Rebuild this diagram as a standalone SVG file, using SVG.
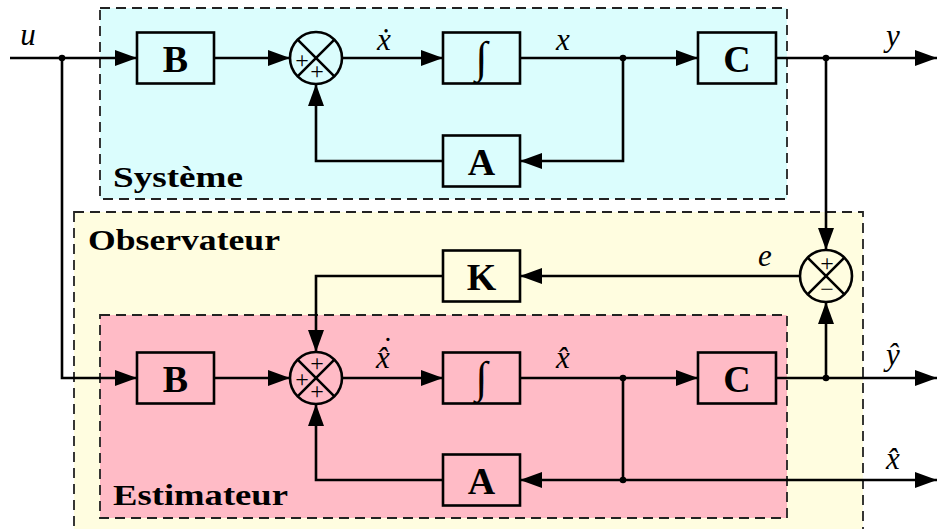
<svg xmlns="http://www.w3.org/2000/svg" width="937" height="529" viewBox="0 0 937 529">
<style>
.zone{stroke:#222;stroke-width:1.8;stroke-dasharray:10 6}
.blk{fill:none;stroke:#000;stroke-width:2.6}
.ln{fill:none;stroke:#000;stroke-width:2.6}
.arr{marker-end:url(#ah)}
.sum{fill:none;stroke:#000;stroke-width:2.6}
.bl{font-family:"Liberation Serif",serif;font-weight:bold;font-size:38px;text-anchor:middle}
.zl{font-family:"Liberation Serif",serif;font-weight:bold;font-size:30px}
.m{font-family:"Liberation Serif",serif;font-style:italic;font-size:31px;text-anchor:middle}
.pm{font-family:"Liberation Serif",serif;font-size:24px;text-anchor:middle}
.int{font-family:"Liberation Serif",serif;font-size:44px;text-anchor:middle}
</style>
<defs>
<marker id="ah" markerUnits="userSpaceOnUse" markerWidth="23" markerHeight="16" refX="22" refY="8" orient="auto">
<path d="M0,0 L22,8 L0,16 z" fill="#000"/>
</marker>
</defs>
<rect width="937" height="529" fill="#fff"/>
<g id="zone-systeme">
<rect class="zone" x="100" y="8" width="687" height="191" fill="#dbfdfd"/>
<text class="zl" x="113" y="187" textLength="130" lengthAdjust="spacingAndGlyphs">Système</text>
</g>
<g id="zone-observateur">
<rect class="zone" x="74" y="212" width="789" height="320" fill="#fffde0"/>
<text class="zl" x="88" y="250" textLength="192" lengthAdjust="spacingAndGlyphs">Observateur</text>
</g>
<g id="zone-estimateur">
<rect class="zone" x="100" y="315" width="687" height="203" fill="#ffbbc6"/>
<text class="zl" x="113" y="505" textLength="175" lengthAdjust="spacingAndGlyphs">Estimateur</text>
</g>
<g id="connectors">
<path class="ln arr" d="M10,58 H137"/>
<path class="ln arr" d="M62,58 V378 H137"/>
<path class="ln arr" d="M214,58 H290"/>
<path class="ln arr" d="M342,58 H443"/>
<path class="ln arr" d="M520,58 H698"/>
<path class="ln arr" d="M623,58 V161 H520"/>
<path class="ln arr" d="M443,161 H316 V84"/>
<path class="ln arr" d="M776,58 H937"/>
<path class="ln arr" d="M826,58 V250"/>
<path class="ln arr" d="M800,276 H520"/>
<path class="ln arr" d="M443,276 H316 V352"/>
<path class="ln arr" d="M826,378 V302"/>
<path class="ln arr" d="M214,378 H290"/>
<path class="ln arr" d="M342,378 H443"/>
<path class="ln arr" d="M520,378 H698"/>
<path class="ln arr" d="M776,378 H937"/>
<path class="ln arr" d="M623,378 V480 H520"/>
<path class="ln arr" d="M623,480 H937"/>
<path class="ln arr" d="M443,480 H316 V404"/>
<circle cx="62" cy="58" r="3.3"/>
<circle cx="623" cy="58" r="3.3"/>
<circle cx="826" cy="58" r="3.3"/>
<circle cx="623" cy="378" r="3.3"/>
<circle cx="826" cy="378" r="3.3"/>
<circle cx="623" cy="480" r="3.3"/>
<text class="m" x="28" y="45">u</text>
<text class="m" x="384" y="50">ẋ</text>
<text class="m" x="563" y="50">x</text>
<text class="m" x="893" y="46">y</text>
<text class="m" x="765" y="266">e</text>
<text class="m" x="383" y="368">x̂<tspan x="386" y="359">˙</tspan></text>
<text class="m" x="563" y="368">x̂</text>
<text class="m" x="893" y="365">ŷ</text>
<text class="m" x="893" y="469">x̂</text>
</g>
<g id="B1"><rect class="blk" x="137" y="32.5" width="77" height="51"/><text class="bl" x="175.5" y="72">B</text></g>
<g id="I1"><rect class="blk" x="443" y="32.5" width="77" height="51"/><text class="int" x="481.5" y="72">∫</text></g>
<g id="C1"><rect class="blk" x="698" y="32.5" width="78" height="51"/><text class="bl" x="737" y="72">C</text></g>
<g id="A1"><rect class="blk" x="443" y="135.5" width="77" height="51"/><text class="bl" x="481.5" y="175">A</text></g>
<g id="S1"><circle class="sum" cx="316" cy="58" r="26"/><path class="ln" d="M297.6,39.6 L334.4,76.4 M334.4,39.6 L297.6,76.4"/><text class="pm" x="302" y="68">+</text><text class="pm" x="317" y="79">+</text></g>
<g id="K"><rect class="blk" x="443" y="250.5" width="77" height="51"/><text class="bl" x="481.5" y="290">K</text></g>
<g id="Se"><circle class="sum" cx="826" cy="276" r="26"/><path class="ln" d="M807.6,257.6 L844.4,294.4 M844.4,257.6 L807.6,294.4"/><text class="pm" x="827" y="271">+</text><text class="pm" x="827" y="297">−</text></g>
<g id="B2"><rect class="blk" x="137" y="352.5" width="77" height="51"/><text class="bl" x="175.5" y="392">B</text></g>
<g id="I2"><rect class="blk" x="443" y="352.5" width="77" height="51"/><text class="int" x="481.5" y="392">∫</text></g>
<g id="C2"><rect class="blk" x="698" y="352.5" width="78" height="51"/><text class="bl" x="737" y="392">C</text></g>
<g id="A2"><rect class="blk" x="443" y="454.5" width="77" height="51"/><text class="bl" x="481.5" y="494">A</text></g>
<g id="S2"><circle class="sum" cx="316" cy="378" r="26"/><path class="ln" d="M297.6,359.6 L334.4,396.4 M334.4,359.6 L297.6,396.4"/><text class="pm" x="317" y="371">+</text><text class="pm" x="302" y="387">+</text><text class="pm" x="317" y="399">+</text></g>
</svg>
